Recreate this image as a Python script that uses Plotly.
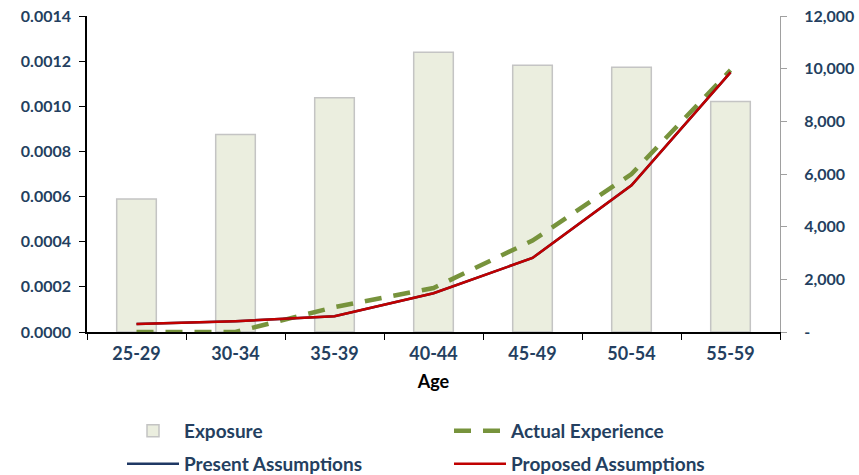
import plotly.graph_objects as go

ages = ["25-29", "30-34", "35-39", "40-44", "45-49", "50-54", "55-59"]
exposure = [5050, 7500, 8900, 10620, 10130, 10050, 8750]
actual_experience = [0.0, 0.0, 0.000110, 0.000195, 0.000405, 0.000700, 0.001160]
present_assumptions = [0.000035, 0.000048, 0.000070, 0.000172, 0.000328, 0.000650, 0.001150]
proposed_assumptions = [0.000035, 0.000048, 0.000070, 0.000172, 0.000328, 0.000650, 0.001150]

left_ticks = [0.0, 0.0002, 0.0004, 0.0006, 0.0008, 0.0010, 0.0012, 0.0014]
right_ticks = [0, 2000, 4000, 6000, 8000, 10000, 12000]
right_labels = ["-", "2,000", "4,000", "6,000", "8,000", "10,000", "12,000"]

navy = "#243F60"
font_family = "Lato"
legend_font = dict(family=font_family, size=19, color=navy, weight="bold")

fig = go.Figure()
fig.add_trace(go.Bar(
    x=ages, y=exposure, name="Exposure", yaxis="y", width=0.4,
    marker=dict(color="#EBEEDF", line=dict(color="#C4C4C4", width=1.5)),
    legend="legend", showlegend=True,
))
fig.add_trace(go.Scatter(
    x=ages, y=actual_experience, name="Actual Experience", yaxis="y2", mode="lines",
    line=dict(color="#77933C", width=4.5, dash="17px,12px"), legend="legend2",
))
fig.add_trace(go.Scatter(
    x=ages, y=present_assumptions, name="Present Assumptions", yaxis="y2", mode="lines",
    line=dict(color="#1F3864", width=2.5), legend="legend3",
))
fig.add_trace(go.Scatter(
    x=ages, y=proposed_assumptions, name="Proposed Assumptions", yaxis="y2", mode="lines",
    line=dict(color="#C00000", width=2.5), legend="legend4",
))

PL, PT, PW, PH = 87, 16, 693, 316


def leg(xp, yp):
    return dict(
        x=(xp - PL) / PW, y=(PT + PH - yp) / PH, xref="paper", yref="paper",
        xanchor="left", yanchor="middle", bgcolor="rgba(0,0,0,0)", font=legend_font,
        orientation="h", itemwidth=52,
    )


fig.update_layout(
    width=859, height=475, showlegend=True,
    margin=dict(l=PL, r=859 - PL - PW, t=PT, b=475 - PT - PH, autoexpand=False),
    plot_bgcolor="white", paper_bgcolor="white",
    font=dict(family=font_family, size=16, color=navy),
    xaxis=dict(
        type="category", tickson="boundaries", ticks="outside", ticklen=6,
        tickcolor="black", showline=True, linecolor="black", linewidth=1.5,
        showgrid=False, ticklabelstandoff=5, tickangle=0,
        tickfont=dict(family=font_family, size=18, color=navy, weight="bold"),
        title=dict(text="Age", font=dict(family=font_family, size=18, color="black", weight="bold"), standoff=12),
    ),
    yaxis=dict(
        side="right", range=[0, 12000], tickvals=right_ticks, ticktext=right_labels,
        ticks="outside", ticklen=6, tickcolor="#A0A0A0", showline=True,
        linecolor="#A0A0A0", linewidth=1, showgrid=False, zeroline=False,
        ticklabelstandoff=14,
        tickfont=dict(family=font_family, size=16, color=navy, weight="bold"),
    ),
    yaxis2=dict(
        overlaying="y", side="left", range=[0, 0.0014], tickvals=left_ticks,
        tickformat=".4f", ticks="outside", ticklen=6, tickcolor="black",
        showline=True, linecolor="black", linewidth=1.5, showgrid=False, zeroline=False,
        ticklabelstandoff=5,
        tickfont=dict(family=font_family, size=16, color=navy, weight="bold"),
    ),
    legend=leg(122, 431),
    legend2=leg(449, 431),
    legend3=leg(122, 464),
    legend4=leg(449, 464),
)

fig.write_html("out.html")
